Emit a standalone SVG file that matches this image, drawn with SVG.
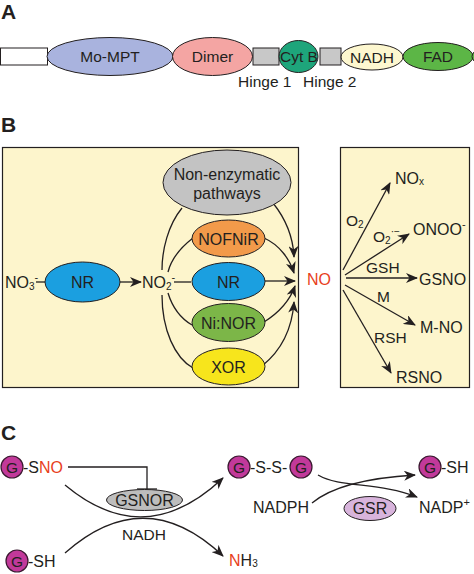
<svg xmlns="http://www.w3.org/2000/svg" width="474" height="574" viewBox="0 0 474 574">
<defs>
<style>
text{font-family:"Liberation Sans",Arial,sans-serif;fill:#231f20;}
.hdr{font-size:21px;font-weight:bold;}
.t15{font-size:15.5px;}
.t16{font-size:16px;}
.mid{text-anchor:middle;}
.sh{stroke:#231f20;stroke-width:1;}
.ln{fill:none;stroke:#231f20;stroke-width:1.3;}
.red{fill:#e8401c;}
.g{fill:#c2399a;stroke:#3a1a30;stroke-width:1.2;}
</style>
<marker id="ah" viewBox="0 0 12 10" refX="11" refY="5" markerWidth="12" markerHeight="10" orient="auto" markerUnits="userSpaceOnUse"><path d="M0,0 L12,5 L0,10 L3.5,5 z" fill="#231f20"/></marker>
</defs>
<rect width="474" height="574" fill="#fff"/>

<!-- Panel A -->
<text class="hdr" x="1" y="19">A</text>
<g id="domainA">
<rect class="sh" x="0.5" y="48" width="47" height="17" fill="#fff"/>
<ellipse id="mompt" class="sh" cx="110" cy="56.5" rx="63" ry="19" fill="#a9b3de"/>
<text class="t15 mid" x="110" y="62">Mo-MPT</text>
<ellipse class="sh" cx="212.5" cy="56.5" rx="40" ry="19" fill="#f4a5a3"/>
<text class="t15 mid" x="212.5" y="62">Dimer</text>
<rect class="sh" x="253" y="48" width="26" height="17" fill="#c8c8c8"/>
<ellipse class="sh" cx="298.5" cy="56.5" rx="19.5" ry="16" fill="#1ea57b"/>
<text class="t15 mid" x="299" y="62">Cyt B</text>
<rect class="sh" x="320" y="48" width="21" height="17" fill="#c8c8c8"/>
<ellipse class="sh" cx="372" cy="57" rx="31" ry="13" fill="#fdf7cf"/>
<text class="t15 mid" x="372" y="62.5">NADH</text>
<ellipse class="sh" cx="438" cy="56.5" rx="35" ry="14" fill="#5cb646"/>
<text class="t15 mid" x="438" y="62">FAD</text>
<ellipse class="sh" cx="500" cy="56.5" rx="28" ry="12" fill="#5cb646"/>
<text class="t15" x="238" y="87">Hinge 1</text>
<text class="t15" x="303" y="87">Hinge 2</text>
</g>

<!-- Panel B -->
<text class="hdr" x="1" y="132">B</text>
<rect x="2.5" y="147.5" width="296" height="240" fill="#fdf5cc" stroke="#231f20" stroke-width="1.2"/>
<rect x="340.5" y="147.5" width="129" height="240" fill="#fdf5cc" stroke="#231f20" stroke-width="1.2"/>

<g id="connectorsB">
<path class="ln" d="M36,282 L45,282"/>
<path class="ln" d="M120,282 L141,282" marker-end="url(#ah)"/>
<path class="ln" d="M182,208 C168,225 162,250 162,270"/>
<path class="ln" d="M193,238 C180,248 171,260 168,272"/>
<path class="ln" d="M174,282 L191,282"/>
<path class="ln" d="M168,293 C172,306 180,318 192,325"/>
<path class="ln" d="M162,295 C162,330 175,358 193,368"/>
<path class="ln" d="M273,203 C285,218 293,235 294,257" marker-end="url(#ah)"/>
<path class="ln" d="M264,238 C280,245 290,260 294,273" marker-end="url(#ah)"/>
<path class="ln" d="M265,281 L295,281" marker-end="url(#ah)"/>
<path class="ln" d="M264,322 C280,312 290,300 295,286" marker-end="url(#ah)"/>
<path class="ln" d="M262,366 C282,350 292,330 294,302" marker-end="url(#ah)"/>
<path class="ln" d="M343,270 L390,183" marker-end="url(#ah)"/>
<path class="ln" d="M345,275 L409,234" marker-end="url(#ah)"/>
<path class="ln" d="M346,278 L417,278" marker-end="url(#ah)"/>
<path class="ln" d="M345,285 L415,325" marker-end="url(#ah)"/>
<path class="ln" d="M343,290 L391,373" marker-end="url(#ah)"/>
</g>

<g id="no3"><text class="t16" x="5" y="288">NO<tspan font-size="10" dy="2">3</tspan><tspan font-size="11" dy="-9">-</tspan></text></g>
<g id="nr1"><ellipse class="sh" cx="82.5" cy="282" rx="37.5" ry="20" fill="#1b9fe0"/><text class="t16 mid" x="82.5" y="288">NR</text></g>
<g id="no2"><text class="t16" x="142" y="288">NO<tspan font-size="10" dy="2">2</tspan><tspan font-size="11" dy="-9">-</tspan></text></g>
<g id="nonenz"><ellipse class="sh" cx="227" cy="182.5" rx="64" ry="32.5" fill="#c3c3c3"/><text class="t16 mid" x="227" y="180">Non-enzymatic</text><text class="t16 mid" x="227" y="199">pathways</text></g>
<g id="nofnir"><ellipse class="sh" cx="228.5" cy="238.5" rx="36.5" ry="18.5" fill="#f29a4a"/><text class="t16 mid" x="228.5" y="244.5">NOFNiR</text></g>
<g id="nr2"><ellipse class="sh" cx="228.5" cy="281.5" rx="36.5" ry="19" fill="#1b9fe0"/><text class="t16 mid" x="228.5" y="287.5">NR</text></g>
<g id="ninor"><ellipse class="sh" cx="228.5" cy="322.5" rx="36.5" ry="19" fill="#7cb648"/><text class="t16 mid" x="228.5" y="328.5">Ni:NOR</text></g>
<g id="xor"><ellipse class="sh" cx="228.5" cy="366.5" rx="36.5" ry="18.5" fill="#f7e51c"/><text class="t16 mid" x="228.5" y="372.5">XOR</text></g>
<g id="no"><text class="t16 red" x="307" y="285">NO</text></g>

<g id="products">
<text class="t16" x="395" y="184">NO<tspan font-size="10" dy="1">x</tspan></text>
<text class="t15" x="346" y="226">O<tspan font-size="10" dy="2">2</tspan></text>
<text class="t15" x="373" y="242">O<tspan font-size="10" dy="2">2</tspan><tspan font-size="10" dy="-9">·−</tspan></text>
<text class="t16" x="413" y="235">ONOO<tspan font-size="11" dy="-7">-</tspan></text>
<text class="t15" x="366" y="273">GSH</text>
<text class="t16" x="419" y="285">GSNO</text>
<text class="t15" x="377" y="302">M</text>
<text class="t16" x="420" y="333">M-NO</text>
<text class="t15" x="374" y="343">RSH</text>
<text class="t16" x="396" y="383">RSNO</text>
</g>

<!-- Panel C -->
<text class="hdr" x="1" y="440">C</text>
<g id="connectorsC">
<path class="ln" d="M68,467 L147,467 L147,489"/>
<path class="ln" d="M137,489 L157,489"/>
<path class="ln" d="M65,485 Q145,552 223,478" marker-end="url(#ah)"/>
<path class="ln" d="M65,553 Q145,482 223,556" marker-end="url(#ah)"/>
<path class="ln" d="M318,475 C340,488 380,482 417,497" marker-end="url(#ah)"/>
<path class="ln" d="M312,503 C330,488 365,478 415,475" marker-end="url(#ah)"/>
</g>
<g id="gsno"><circle class="g" cx="12" cy="467" r="11"/><text class="t15 mid" x="12" y="472.5">G</text><text class="t16" x="23" y="473">-S<tspan class="red">NO</tspan></text></g>
<g id="gsnor"><ellipse class="sh" cx="144.5" cy="500" rx="38" ry="10.5" fill="#bdbdbd"/><text class="t16 mid" x="144.5" y="506">GSNOR</text></g>
<text class="t15 mid" x="144" y="540">NADH</text>
<g id="gsh1"><circle class="g" cx="17" cy="561" r="11"/><text class="t15 mid" x="17" y="566.5">G</text><text class="t16" x="28" y="567">-SH</text></g>
<g id="nh3"><text class="t16" x="229" y="566"><tspan class="red">N</tspan>H<tspan font-size="10" dy="1">3</tspan></text></g>
<g id="gssg"><circle class="g" cx="239" cy="467" r="11"/><text class="t15 mid" x="239" y="472.5">G</text><text class="t16" x="250" y="473">-S-S-</text><circle class="g" cx="301" cy="467" r="11"/><text class="t15 mid" x="301" y="472.5">G</text></g>
<text class="t16" x="253" y="513">NADPH</text>
<g id="gsr"><ellipse class="sh" cx="370" cy="508.5" rx="26" ry="12" fill="#d8b4dc"/><text class="t16 mid" x="370" y="514">GSR</text></g>
<text class="t16" x="419" y="513">NADP<tspan font-size="11" dy="-7">+</tspan></text>
<g id="gsh2"><circle class="g" cx="430" cy="467" r="11"/><text class="t15 mid" x="430" y="472.5">G</text><text class="t16" x="441" y="473">-SH</text></g>
</svg>
